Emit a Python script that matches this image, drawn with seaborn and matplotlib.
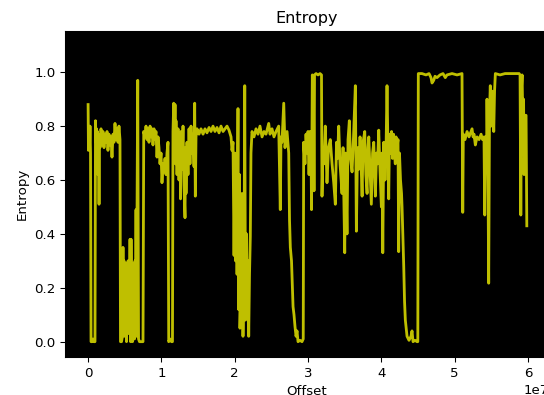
import matplotlib
matplotlib.use("Agg")
import matplotlib.pyplot as plt
import seaborn as sns
import numpy as np
import pandas as pd

# Offsets in units of 100 kB (1e5 bytes) and entropy values
offset_100kb = [
    0.0, 0.5, 1.2, 1.9, 2.6, 3.3, 4.0, 5.3, 6.7, 8.0, 9.4, 10.1, 10.8, 11.5, 12.1, 12.8, 13.5, 14.2, 14.9, 15.6,
    16.2, 17.6, 19.0, 20.3, 21.7, 23.1, 24.4, 25.8, 27.1, 28.5, 29.9, 31.2, 32.6, 34.0, 35.3, 36.7, 38.1, 39.4, 40.8, 42.1,
    43.5, 44.2, 45.6, 46.9, 47.6, 48.3, 49.0, 49.7, 50.3, 51.0, 51.7, 52.4, 53.1, 53.8, 54.5, 55.1, 55.8, 56.5, 57.2, 57.9,
    58.6, 59.2, 59.9, 60.6, 61.3, 62.0, 62.6, 63.3, 64.0, 64.7, 65.4, 66.1, 66.7, 67.7, 68.8, 70.1, 72.2, 74.9, 75.9, 77.6,
    79.0, 80.4, 81.7, 83.1, 84.5, 85.8, 87.2, 88.5, 89.9, 91.3, 92.6, 94.0, 95.4, 96.7, 98.1, 99.5, 100.8, 102.2, 103.6, 104.9,
    106.3, 107.6, 109.0, 110.0, 111.7, 113.8, 115.1, 115.8, 116.8, 117.9, 118.6, 119.2, 119.9, 121.3, 122.7, 124.0, 125.4, 126.1, 126.8, 128.1,
    129.5, 130.8, 132.2, 132.9, 133.6, 134.9, 136.3, 137.7, 139.0, 140.4, 141.8, 143.1, 144.5, 145.4, 146.3, 147.2, 148.6, 151.3, 154.0, 156.8,
    159.5, 162.2, 165.0, 167.7, 170.4, 173.1, 175.9, 178.6, 181.3, 184.1, 186.8, 189.5, 192.2, 195.0, 196.3, 197.7, 199.1, 200.4, 201.1, 202.5,
    203.2, 204.5, 205.2, 206.6, 207.2, 208.6, 209.3, 210.0, 211.3, 212.7, 213.7, 214.7, 216.1, 216.8, 218.1, 219.1, 220.2, 221.3, 222.2, 223.6,
    226.3, 229.1, 231.8, 234.5, 237.3, 240.0, 242.7, 246.4, 248.2, 250.9, 253.6, 256.4, 260.0, 262.2, 263.2, 264.5, 266.9, 268.6, 271.4, 273.7,
    274.8, 275.9, 277.5, 279.6, 280.9, 282.3, 283.7, 285.0, 286.4, 289.1, 291.8, 293.5, 294.1, 295.9, 297.3, 298.7, 300.0, 301.4, 302.7, 304.1,
    304.8, 305.9, 307.5, 308.2, 308.9, 311.0, 313.7, 316.4, 318.4, 319.1, 320.5, 321.8, 323.6, 325.9, 328.0, 330.4, 332.8, 335.1, 337.3, 338.9,
    340.3, 341.9, 343.7, 346.4, 347.8, 350.1, 351.2, 353.2, 354.6, 356.4, 358.0, 360.1, 362.1, 364.6, 366.0, 367.6, 369.2, 371.0, 372.4, 373.8,
    375.1, 377.4, 378.9, 380.6, 381.9, 382.9, 384.6, 386.4, 388.1, 389.7, 391.9, 393.5, 394.9, 396.5, 398.3, 400.1, 401.0, 402.0, 403.3, 405.1,
    406.5, 407.8, 409.2, 410.1, 411.2, 412.6, 414.0, 415.3, 416.7, 418.0, 419.1, 420.1, 421.4, 422.8, 423.7, 424.8, 426.2, 427.6, 428.3, 430.6,
    431.7, 432.8, 435.1, 437.8, 440.5, 441.9, 443.3, 446.0, 448.7, 449.8, 450.5, 455.5, 461.0, 465.1, 467.8, 469.2, 471.5, 473.3, 476.0, 480.1,
    484.2, 487.3, 489.6, 496.5, 503.3, 510.1, 511.1, 511.9, 514.2, 517.0, 519.7, 522.4, 523.8, 525.2, 526.5, 528.3, 530.6, 533.4, 536.1, 538.1,
    540.1, 541.1, 542.2, 543.6, 544.2, 545.6, 546.5, 547.6, 548.7, 549.7, 551.0, 552.4, 553.4, 554.5, 555.6, 562.0, 568.8, 575.7, 582.5, 588.0,
    589.3, 590.3, 591.4, 592.1, 593.4, 594.1, 594.8, 596.2, 597.5, 598.5,
]
entropy = [
    0.88, 0.71, 0.79, 0.72, 0.80, 0.70, 0.0, 0.0, 0.01, 0.0, 0.0, 0.82, 0.74, 0.79, 0.70, 0.78, 0.62, 0.77, 0.51, 0.76,
    0.72, 0.79, 0.73, 0.78, 0.72, 0.77, 0.74, 0.78, 0.71, 0.77, 0.73, 0.76, 0.685, 0.77, 0.74, 0.81, 0.75, 0.79, 0.74, 0.80,
    0.75, 0.0, 0.0, 0.02, 0.35, 0.05, 0.30, 0.02, 0.28, 0.10, 0.29, 0.0, 0.27, 0.12, 0.30, 0.03, 0.28, 0.08, 0.38, 0.0,
    0.38, 0.15, 0.28, 0.0, 0.27, 0.05, 0.29, 0.01, 0.30, 0.10, 0.49, 0.02, 0.45, 0.97, 0.01, 0.0, 0.0, 0.0, 0.78, 0.76,
    0.80, 0.75, 0.79, 0.74, 0.80, 0.76, 0.79, 0.73, 0.79, 0.75, 0.78, 0.685, 0.76, 0.72, 0.66, 0.70, 0.59, 0.66, 0.63, 0.68,
    0.62, 0.70, 0.74, 0.0, 0.01, 0.0, 0.0, 0.78, 0.885, 0.72, 0.88, 0.66, 0.82, 0.62, 0.79, 0.60, 0.75, 0.53, 0.78, 0.64,
    0.80, 0.58, 0.46, 0.72, 0.55, 0.74, 0.62, 0.79, 0.66, 0.80, 0.70, 0.77, 0.65, 0.885, 0.54, 0.76, 0.79, 0.77, 0.79, 0.77,
    0.79, 0.775, 0.795, 0.78, 0.80, 0.78, 0.795, 0.775, 0.80, 0.78, 0.79, 0.80, 0.785, 0.76, 0.71, 0.74, 0.32, 0.70, 0.30, 0.68,
    0.25, 0.865, 0.12, 0.62, 0.05, 0.20, 0.06, 0.55, 0.02, 0.30, 0.95, 0.08, 0.40, 0.10, 0.30, 0.02, 0.25, 0.39, 0.70, 0.78,
    0.76, 0.79, 0.77, 0.80, 0.76, 0.78, 0.77, 0.81, 0.77, 0.79, 0.76, 0.78, 0.80, 0.49, 0.76, 0.74, 0.885, 0.72, 0.78, 0.70,
    0.45, 0.35, 0.30, 0.13, 0.10, 0.055, 0.02, 0.04, 0.0, 0.005, 0.0, 0.01, 0.74, 0.66, 0.77, 0.70, 0.78, 0.62, 0.78, 0.74,
    0.49, 0.99, 0.92, 0.56, 0.99, 0.995, 0.99, 0.995, 0.99, 0.54, 0.72, 0.66, 0.80, 0.59, 0.72, 0.75, 0.66, 0.59, 0.51, 0.74,
    0.68, 0.80, 0.66, 0.55, 0.72, 0.33, 0.70, 0.40, 0.75, 0.82, 0.68, 0.63, 0.76, 0.95, 0.41, 0.72, 0.64, 0.76, 0.66, 0.54,
    0.74, 0.78, 0.62, 0.55, 0.72, 0.76, 0.64, 0.51, 0.70, 0.74, 0.54, 0.70, 0.66, 0.785, 0.63, 0.50, 0.70, 0.33, 0.74, 0.60,
    0.72, 0.95, 0.70, 0.53, 0.77, 0.70, 0.78, 0.68, 0.77, 0.70, 0.66, 0.76, 0.72, 0.75, 0.334, 0.70, 0.60, 0.55, 0.50, 0.28,
    0.15, 0.08, 0.02, 0.005, 0.02, 0.04, 0.0, 0.005, 0.0, 0.0, 0.995, 0.995, 0.99, 0.995, 0.98, 0.96, 0.97, 0.985, 0.98, 0.99,
    0.995, 0.98, 0.99, 0.995, 0.99, 0.995, 0.48, 0.77, 0.75, 0.78, 0.76, 0.78, 0.79, 0.76, 0.77, 0.73, 0.76, 0.75, 0.77, 0.75,
    0.76, 0.47, 0.76, 0.70, 0.90, 0.60, 0.217, 0.85, 0.95, 0.80, 0.93, 0.88, 0.78, 0.93, 0.995, 0.99, 0.995, 0.995, 0.995, 0.995,
    0.99, 0.47, 0.95, 0.99, 0.76, 0.90, 0.62, 0.84, 0.84, 0.43,
]

df = pd.DataFrame({"Offset": np.array(offset_100kb) * 1e5, "Entropy": entropy})

W, H, DPI = 544, 395, 96
fig = plt.figure(figsize=(W / DPI, H / DPI), dpi=DPI)
left_px, right_px, top_px, bottom_px = 64.9, 548.5, 31.0, 357.3
ax = fig.add_axes([left_px / W, (H - bottom_px) / H,
                   (right_px - left_px) / W, (bottom_px - top_px) / H])
ax.set_facecolor("black")

sns.lineplot(data=df, x="Offset", y="Entropy", color="y", linewidth=2.1,
             estimator=None, sort=False, ax=ax)

ax.set_xlim(-0.3165e7, 6.281e7)
ax.set_ylim(-0.058, 1.153)
ax.set_title("Entropy")
ax.set_xlabel("Offset")
ax.set_ylabel("Entropy")

fig.savefig("out.png", dpi=DPI)
